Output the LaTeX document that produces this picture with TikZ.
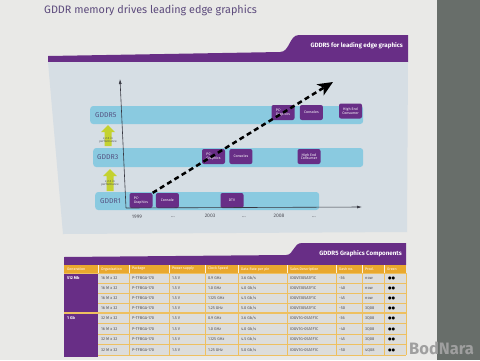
\documentclass[tikz,border=0pt]{standalone}
\usepackage{fontspec}
\setmainfont{Fira Sans}
\newfontfamily\symfont{DejaVu Sans}
\usepackage{tikz}
\usetikzlibrary{positioning, arrows.meta}

\definecolor{poster}{RGB}{233,233,231}
\definecolor{strip}{RGB}{104,110,106}
\definecolor{qpurple}{RGB}{104,46,134}
\definecolor{panel}{RGB}{214,222,228}
\definecolor{bandblue}{RGB}{138,202,224}
\definecolor{bandtext}{RGB}{84,80,128}
\definecolor{perfgreen}{RGB}{196,210,48}
\definecolor{headorange}{RGB}{233,168,46}
\definecolor{cellgrey}{RGB}{221,221,219}
\definecolor{gridorange}{RGB}{238,192,96}
\definecolor{titlepurple}{RGB}{92,74,124}
\definecolor{labelgrey}{RGB}{80,80,88}
\definecolor{axisgrey}{RGB}{55,55,65}

\newcommand{\pxsize}[1]{\fontsize{#1}{#1}\selectfont}

\begin{document}
\begin{tikzpicture}[x=1pt, y=-1pt, node distance=4pt,
	band/.style={fill=bandblue, rounded corners=3pt, minimum height=18pt, inner sep=0pt, anchor=west},
	bandlabel/.style={text=bandtext, font=\pxsize{7}, inner sep=0pt, anchor=west},
	tag/.style={fill=qpurple, rounded corners=2pt, text=white, font=\pxsize{3.6}, align=center, inner sep=0pt, minimum width=23pt, minimum height=15pt},
	perftext/.style={text=labelgrey, font=\pxsize{3}, align=center, inner sep=0pt},
	yeartext/.style={text=labelgrey, font=\pxsize{5}, inner sep=0pt},
	axisline/.style={draw=axisgrey, line width=0.6pt, -{Latex[length=5pt,width=3pt]}},
	trend/.style={line width=2.5pt, dash pattern=on 5pt off 3.5pt, -{Stealth[length=15pt,width=13pt,inset=4pt]}},
	headtext/.style={text=white, font=\pxsize{3.6}, inner sep=0pt, anchor=west},
	celltext/.style={text=labelgrey, font=\pxsize{4}, inner sep=0pt, anchor=west}]

	% background %
	\fill[poster] (0,0) rectangle (480,360);
	\fill[strip] (437,0) rectangle (480,360);
	\useasboundingbox (0,0) rectangle (480,360);

	\node[anchor=west, text=titlepurple, font=\pxsize{10.8}, inner sep=0pt] (title) at (44,10) {GDDR memory drives leading edge graphics};

	% chart banner and panel %
	\fill[qpurple] (48,56) -- (280,52) .. controls (290,52) and (289,35) .. (299,35) -- (408,35) -- (408,62) -- (48,62) -- cycle;
	\node[anchor=east, text=white, font=\bfseries\pxsize{6.2}, inner sep=0pt] (bannertext) at (403,46) {GDDR5 for leading edge graphics};
	\fill[panel] (48,62) -- (408,62) -- (407,232) -- (63,234) -- cycle;

	% nodes - bands %
	\node[band, minimum width=273pt] (gddr5) at (90,115) {};
	\node[band, minimum width=270pt, minimum height=19pt] (gddr3) at (93,157.5) {};
	\node[band, minimum width=224pt] (gddr1) at (95,201) {};
	\node[bandlabel, right=5pt of gddr5.west] (lab5) {GDDR5};
	\node[bandlabel, right=4pt of gddr3.west] (lab3) {GDDR3};
	\node[bandlabel, right=5pt of gddr1.west] (lab1) {GDDR1};

	% performance arrows %
	\fill[perfgreen] (108,125) -- (115,132) -- (111.5,132) -- (111.5,146) -- (104.5,146) -- (104.5,132) -- (101,132) -- cycle;
	\fill[perfgreen] (110,169) -- (117,176) -- (113.5,176) -- (113.5,191) -- (106.5,191) -- (106.5,176) -- (103,176) -- cycle;
	\node[perftext] (perf53) at (108,140) {x 2-3 in\\performance};
	\node[perftext] (perf31) at (110,183) {x 2-3 in\\performance};

	% nodes - applications %
	\node[tag, align=left] (pcg1) at (141,200.5) {PC-\\Graphics};
	\node[tag, right=3pt of pcg1] (con1) {Console};
	\node[tag] (dtv1) at (232,200.5) {DTV};
	\node[tag, align=left] (pcg3) at (213.5,156.5) {PC-\\Graphics};
	\node[tag, right=4pt of pcg3] (con3) {Consoles};
	\node[tag] (hec3) at (309,156.5) {High End\\Consumer};
	\node[tag, align=left] (pcg5) at (283,112.5) {PC-\\Graphics};
	\node[tag, right=5pt of pcg5] (con5) {Consoles};
	\node[tag] (hec5) at (350.5,111) {High End\\Consumer};

	% axes %
	\coordinate (origin) at (126,208);
	\coordinate (ytip) at (120,79);
	\coordinate (xtip) at (362,207);
	\draw[axisline] (origin) -- (ytip);
	\draw[axisline] (origin) -- (xtip);

	% edges %
	\coordinate (trendtip) at (333,82);
	\draw[trend] (pcg1.north east) -- (trendtip);

	% years %
	\node[yeartext] (y1999) at (137,217) {1999};
	\node[yeartext] (d1) at (173,217) {...};
	\node[yeartext] (y2003) at (210,216) {2003};
	\node[yeartext] (d2) at (244,217) {...};
	\node[yeartext] (y2008) at (279,216) {2008};
	\node[yeartext] (d3) at (314,217) {...};

	% table banner %
	\fill[qpurple] (64,257) -- (286,255) .. controls (294,255) and (293,243) .. (302,243) -- (406,243) -- (406,265) -- (64,265) -- cycle;
	\node[anchor=east, text=white, font=\bfseries\pxsize{6.2}, inner sep=0pt] (tabletext) at (402,254) {GDDR5 Graphics Components};

	% table body %
	\fill[headorange] (64,265) rectangle (406,273);
	\fill[cellgrey] (98,273) rectangle (406,355);
	\fill[qpurple] (64,273) rectangle (98,313);
	\fill[qpurple] (64,313) rectangle (98,357);
	\foreach \y in {283,293,303,323.5,334,344.5,355}
		\draw[gridorange, line width=0.5pt] (98,\y) -- (406,\y);
	\foreach \x in {129,169,205,238,287,336,362,384,406}
		\draw[gridorange, line width=0.5pt] (\x,273) -- (\x,355);
	\foreach \x in {98,129,169,205,238,287,336,362,384}
		\draw[white!85!headorange, line width=0.4pt] (\x,265) -- (\x,273);
	\draw[gridorange, line width=0.8pt] (64,273) -- (406,273);
	\draw[gridorange, line width=1.6pt] (64,313) -- (406,313);

	\foreach \x/\t in {64/Generation, 98/Organization, 129/Package, 169/Power supply, 205/Clock Speed, 238/Data Rate per pin, 287/Sales Description, 336/Dash no., 362/Prod., 384/Green}
		\node[headtext] (h\x) at (\x+3,269) {\t};

	\node[anchor=west, text=white, font=\bfseries\pxsize{4}, inner sep=0pt] (mb512) at (67,278) {512 Mb};
	\node[anchor=west, text=white, font=\bfseries\pxsize{4}, inner sep=0pt] (gb1) at (67,318.5) {1 Gb};

	\foreach \i/\y/\org/\clk/\rate/\part/\dash/\prod in {
		1/278/16 M x 32/0.9/3.6/IDGV5105A1F1C/-36/now,
		2/288/16 M x 32/1.0/4.0/IDGV5105A1F1C/-40/now,
		3/298/16 M x 32/1.125/4.5/IDGV5105A1F1C/-45/now,
		4/308/16 M x 32/1.25/5.0/IDGV5105A1F1C/-50/3Q08,
		5/318.5/32 M x 32/0.9/3.6/IDGV1G-05A1F1C/-36/3Q08,
		6/329/16 M x 32/1.0/4.0/IDGV1G-05A1F1C/-40/3Q08,
		7/339.5/32 M x 32/1.125/4.5/IDGV1G-05A1F1C/-45/3Q08,
		8/350/32 M x 32/1.25/5.0/IDGV1G-05A1F1C/-50/4Q08}{
		\node[celltext] (org\i) at (101,\y) {\org};
		\node[celltext] (pkg\i) at (132,\y) {P-TFBGA-170};
		\node[celltext] (pow\i) at (172,\y) {1.5 V};
		\node[celltext] (clk\i) at (208,\y) {\clk\ GHz};
		\node[celltext] (rate\i) at (241,\y) {\rate\ Gb/s};
		\node[celltext] (part\i) at (290,\y) {\part};
		\node[celltext] (dash\i) at (339,\y) {\dash};
		\node[celltext] (prod\i) at (365,\y) {\prod};
		\node[celltext, text=black, font=\symfont\pxsize{4}] (green\i) at (388,\y) {●●};
	}

	% watermark %
	\node[anchor=west, text=gray!75, font=\bfseries\pxsize{16.5}, inner sep=0pt] (mark) at (409,348) {BodNara};

\end{tikzpicture}
\end{document}
